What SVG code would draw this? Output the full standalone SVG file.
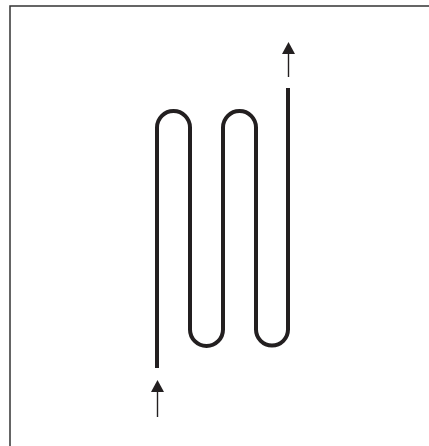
<svg xmlns="http://www.w3.org/2000/svg" width="429" height="446" viewBox="0 0 429 446">
<defs>
<style>
.frame{fill:none;stroke:#333;stroke-width:1.5}
.coil{fill:none;stroke:#231f20;stroke-width:4}
.flow{fill:none;stroke:#231f20;stroke-width:1.4}
.head{fill:#231f20}
</style>
</defs>
<rect class="frame" x="10" y="6" width="430" height="450"/>
<g id="coil">
<path class="coil" d="M157,368 V127.5 A16.5,16.5 0 0 1 190,127.5 V329.5 A16.5,16.5 0 0 0 223,329.5 V127.5 A16.5,16.5 0 0 1 256,127.5 V329.5 A16,16 0 0 0 288,329.5 V88"/>
</g>
<g id="connectors">
<g id="arrow-in">
<line class="flow" x1="157.5" y1="417" x2="157.5" y2="390"/>
<polygon class="head" points="157.5,380 151,392 164,392"/>
</g>
<g id="arrow-out">
<line class="flow" x1="288.5" y1="77" x2="288.5" y2="52"/>
<polygon class="head" points="288.5,42 282,54 295,54"/>
</g>
</g>
</svg>
